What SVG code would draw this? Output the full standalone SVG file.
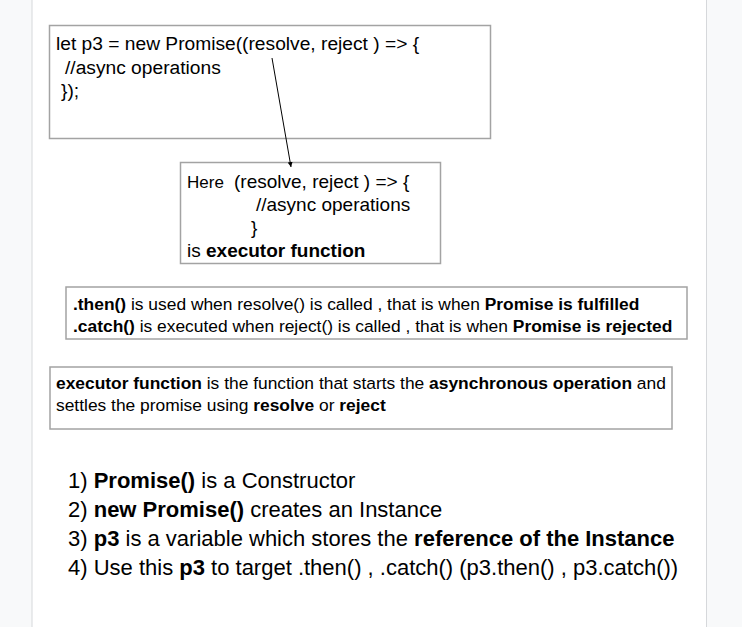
<svg xmlns="http://www.w3.org/2000/svg" width="742" height="627" viewBox="0 0 742 627">
<style>
.t{font-family:"Liberation Sans",Arial,sans-serif;fill:#000}
.b{font-weight:bold}
.box{fill:#fff;stroke:#a3a3a3;stroke-width:1.5}
.conn{stroke:#000;stroke-width:1;fill:none}
</style>
<defs>
<marker id="ah" viewBox="0 0 10 10" refX="10" refY="5" markerWidth="5" markerHeight="5" orient="auto" markerUnits="userSpaceOnUse">
<path d="M0,0 L10,5 L0,10 z" fill="#000"/>
</marker>
</defs>
<rect x="0" y="0" width="742" height="627" fill="#f8f9fa"/>
<rect x="32" y="0" width="674" height="627" fill="#fff"/>
<line x1="32" y1="0" x2="32" y2="627" stroke="#d6d8db" stroke-width="1"/>
<line x1="706.5" y1="0" x2="706.5" y2="627" stroke="#d6d8db" stroke-width="1"/>

<g id="code-box">
<rect class="box" x="49.5" y="25.5" width="441" height="113"/>
<text class="t" font-size="19.2" x="56" y="50">let p3 = new Promise((resolve, reject ) =&gt; {</text>
<text class="t" font-size="19.2" x="65" y="73.5">//async operations</text>
<text class="t" font-size="19.2" x="61" y="97">});</text>
</g>

<g id="executor-box">
<rect class="box" x="180.5" y="162.5" width="260" height="101"/>
<text class="t" x="187" y="188"><tspan font-size="17">Here</tspan><tspan font-size="19" x="234">(resolve, reject ) =&gt; {</tspan></text>
<text class="t" font-size="19" x="256" y="211">//async operations</text>
<text class="t" font-size="19" x="251" y="234">}</text>
<text class="t" font-size="19" x="187" y="257">is <tspan class="b">executor function</tspan></text>
</g>

<g id="then-catch-box">
<rect class="box" x="66" y="287" width="621" height="52"/>
<text class="t" font-size="17.4" x="73" y="310"><tspan class="b">.then()</tspan> is used when resolve() is called , that is when <tspan class="b">Promise is fulfilled</tspan></text>
<text class="t" font-size="17.4" x="73" y="332"><tspan class="b">.catch()</tspan> is executed when reject() is called , that is when <tspan class="b">Promise is rejected</tspan></text>
</g>

<g id="definition-box">
<rect class="box" x="50" y="367" width="622" height="62"/>
<text class="t" font-size="17.4" x="56" y="389"><tspan class="b">executor function</tspan> is the function that starts the <tspan class="b">asynchronous operation</tspan> and</text>
<text class="t" font-size="17.4" x="56" y="411">settles the promise using <tspan class="b">resolve</tspan> or <tspan class="b">reject</tspan></text>
</g>

<g id="points">
<text class="t" font-size="22" x="68" y="488">1) <tspan class="b">Promise()</tspan> is a Constructor</text>
<text class="t" font-size="22" x="68" y="517">2) <tspan class="b">new Promise()</tspan> creates an Instance</text>
<text class="t" font-size="22" x="68" y="546">3) <tspan class="b">p3</tspan> is a variable which stores the <tspan class="b">reference of the Instance</tspan></text>
<text class="t" font-size="22" x="68" y="575">4) Use this <tspan class="b">p3</tspan> to target .then() , .catch() (p3.then() , p3.catch())</text>
</g>

<g id="connectors">
<line class="conn" x1="272" y1="58" x2="291" y2="167" marker-end="url(#ah)"/>
</g>
</svg>
